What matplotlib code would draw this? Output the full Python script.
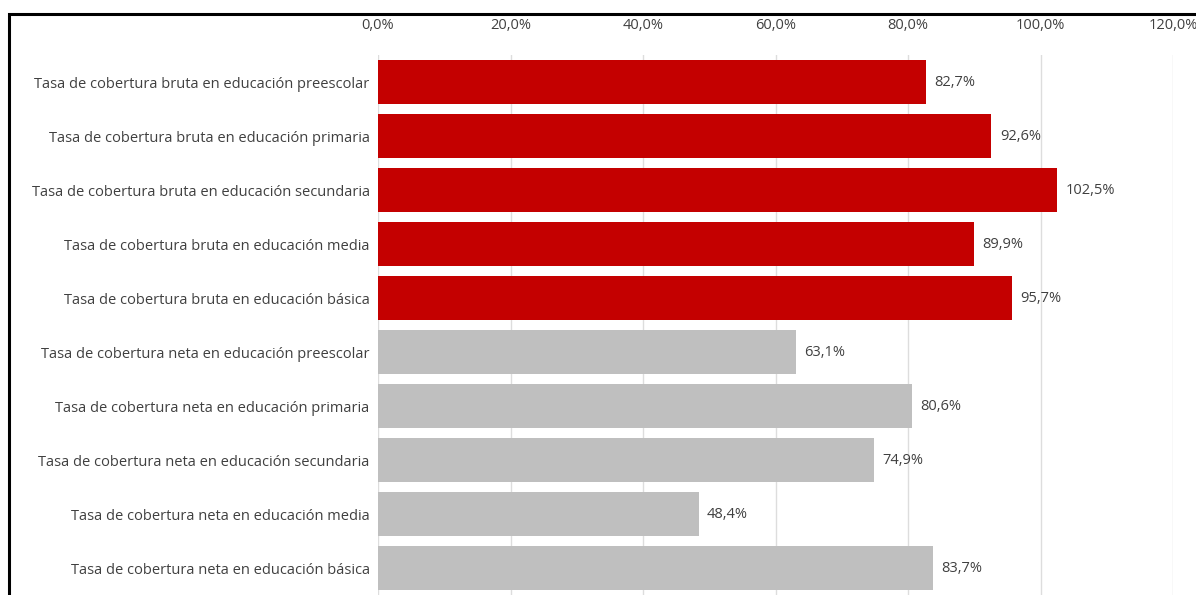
import matplotlib
matplotlib.use("Agg")
import matplotlib.pyplot as plt
from matplotlib.patches import Rectangle

categories = [
    "Tasa de cobertura bruta en educación preescolar",
    "Tasa de cobertura bruta en educación primaria",
    "Tasa de cobertura bruta en educación secundaria",
    "Tasa de cobertura bruta en educación media",
    "Tasa de cobertura bruta en educación básica",
    "Tasa de cobertura neta en educación preescolar",
    "Tasa de cobertura neta en educación primaria",
    "Tasa de cobertura neta en educación secundaria",
    "Tasa de cobertura neta en educación media",
    "Tasa de cobertura neta en educación básica",
]
values = [0.827, 0.926, 1.025, 0.899, 0.957, 0.631, 0.806, 0.749, 0.484, 0.837]
groups = ["bruta"] * 5 + ["neta"] * 5
xticks = [0.0, 0.2, 0.4, 0.6, 0.8, 1.0, 1.2]

colors = {"bruta": "#C40000", "neta": "#BFBFBF"}

plt.rcParams['font.family'] = ['Open Sans', 'DejaVu Sans']

fig = plt.figure(figsize=(11.96, 5.95), dpi=100)
ax = fig.add_axes([378 / 1196, 0.0, (1173 - 378) / 1196, 1 - 55 / 595])

y = list(range(len(categories)))
ax.barh(y, values, height=0.82, color=[colors[g] for g in groups], zorder=2)
ax.set_ylim(len(categories) - 0.5, -0.5)
ax.set_xlim(0, 1.2)

def fmt(v):
    return f"{v*100:.1f}%".replace(".", ",")

for yi, v in zip(y, values):
    ax.annotate(fmt(v), (v, yi), xytext=(6, 0), textcoords="offset points",
                va="center", ha="left", fontsize=10.5, color="#404040")

ax.xaxis.tick_top()
ax.set_xticks(xticks)
ax.set_xticklabels([fmt(t) for t in xticks], fontsize=10.5, color="#404040")
ax.tick_params(axis="x", length=0, pad=16)
ax.set_yticks(y)
ax.set_yticklabels(categories, fontsize=10.5, color="#404040")
ax.tick_params(axis="y", length=0, pad=6)

ax.grid(axis="x", color="#DDDDDD", linewidth=1, zorder=0)
for s in ax.spines.values():
    s.set_visible(False)

fig.patches.append(Rectangle((9 / 1196, -0.05), 1.1, 1 - 14 / 595 + 0.05,
                             transform=fig.transFigure, fill=False,
                             edgecolor="black", linewidth=2.2, zorder=10))

fig.savefig("out.png", dpi=100, facecolor="white")
